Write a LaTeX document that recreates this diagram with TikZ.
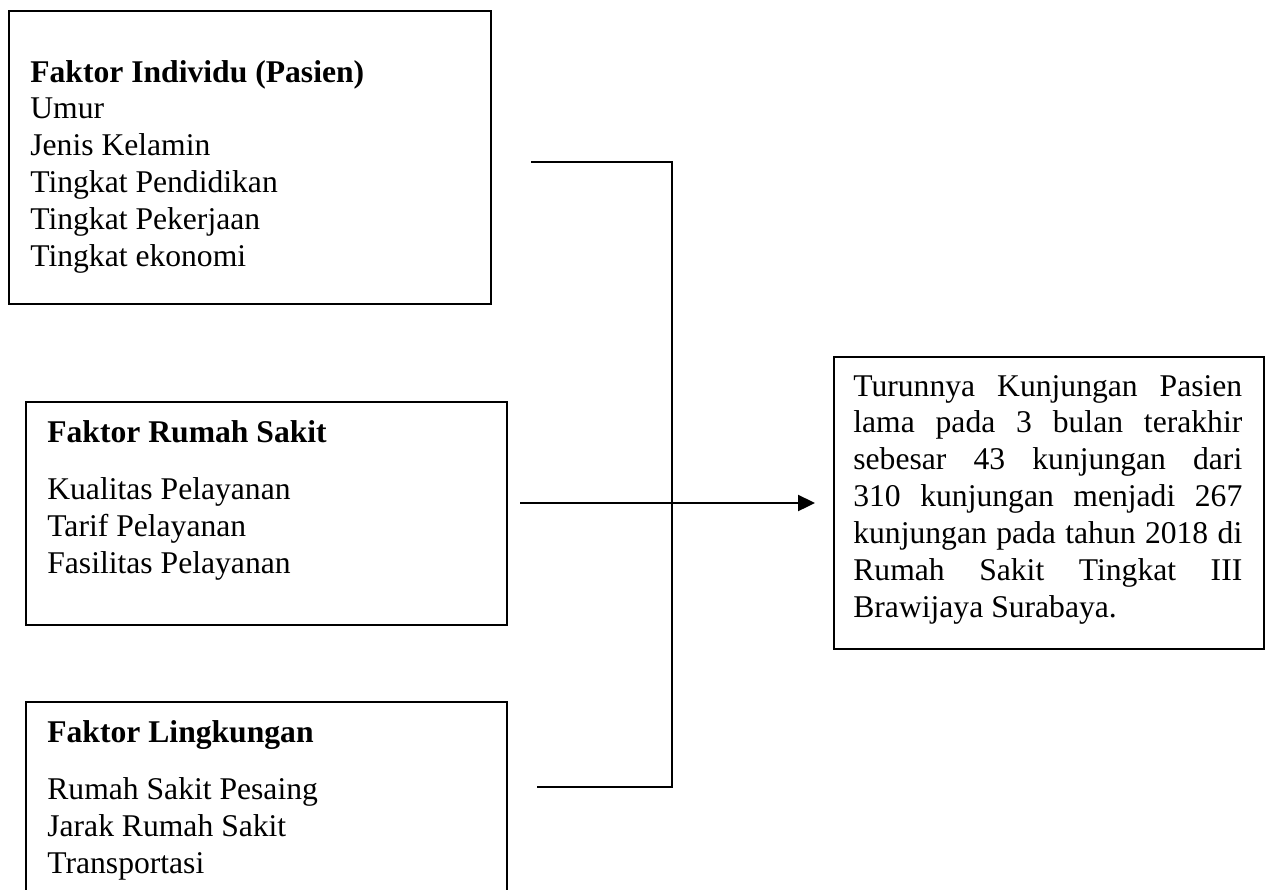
\documentclass[tikz,border=0pt]{standalone}
\usepackage{fontspec}
\setmainfont{Liberation Serif}
\usetikzlibrary{arrows.meta,positioning}

\newcommand{\jline}[1]{\makebox[7.78cm][s]{#1}}

\begin{document}
\begin{tikzpicture}[x=0.02cm, y=-0.02cm,
  box/.style={draw, line width=1.1pt, inner sep=0pt, anchor=north west},
  txt/.style={anchor=base west, inner sep=0pt, font=\fontsize{18}{21}\selectfont},
  link/.style={line width=1.3pt},
  arr/.style={line width=1.3pt, -{Triangle[length=0.34cm, width=0.32cm]}}]
  \clip (0,0) rectangle (1270,889);
  % left boxes
  \node[box, minimum width=9.64cm, minimum height=5.86cm] (indiv) at (8,10) {};
  \node[box, minimum width=9.62cm, minimum height=4.46cm] (rs) at (25,401) {};
  \node[box, minimum width=9.62cm, minimum height=5.2cm] (ling) at (25,701) {};
  \node[txt] (indivtxt) at (30,82) {\begin{tabular}[t]{@{}l@{}}
    \textbf{Faktor Individu (Pasien)}\\ Umur\\ Jenis Kelamin\\
    Tingkat Pendidikan\\ Tingkat Pekerjaan\\ Tingkat ekonomi\end{tabular}};
  \node[txt] (rstxt) at (47,442) {\begin{tabular}[t]{@{}l@{}}
    \textbf{Faktor Rumah Sakit}\\[12pt] Kualitas Pelayanan\\
    Tarif Pelayanan\\ Fasilitas Pelayanan\end{tabular}};
  \node[txt] (lingtxt) at (47,742) {\begin{tabular}[t]{@{}l@{}}
    \textbf{Faktor Lingkungan}\\[12pt] Rumah Sakit Pesaing\\
    Jarak Rumah Sakit\\ Transportasi\end{tabular}};
  % right box
  \node[box, minimum width=8.6cm, minimum height=5.84cm] (hasil) at (833,356) {};
  \node[txt] (hasiltxt) at (853,396) {\begin{tabular}[t]{@{}l@{}}
    \jline{Turunnya Kunjungan Pasien}\\ \jline{lama pada 3 bulan terakhir}\\
    \jline{sebesar 43 kunjungan dari}\\ \jline{310 kunjungan menjadi 267}\\
    \jline{kunjungan pada tahun 2018 di}\\ \jline{Rumah Sakit Tingkat III}\\
    Brawijaya Surabaya.\end{tabular}};
  % connectors
  \coordinate (top) at (531,162);
  \coordinate (bot) at (537,787);
  \coordinate (mid) at (520,503);
  \coordinate (bar) at (672,162);
  \draw[link] (top) -- (bar) -- (bar |- bot) -- (bot);
  \draw[arr, shorten >=0.36cm] (mid) -- (hasil.west |- mid);
\end{tikzpicture}
\end{document}
